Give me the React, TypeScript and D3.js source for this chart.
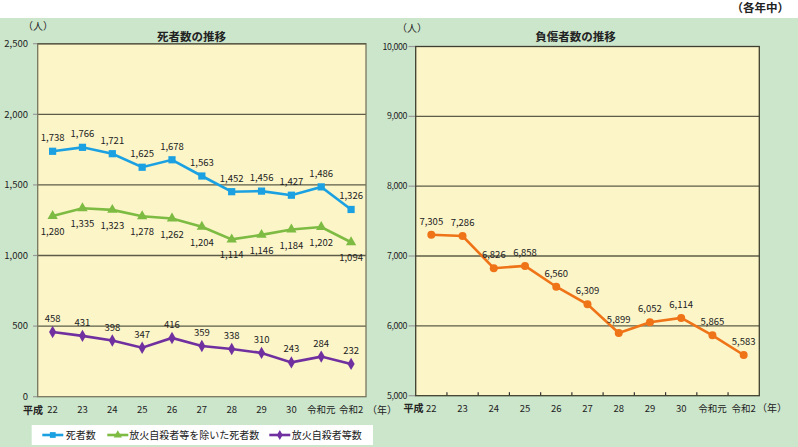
import React from 'react';
import * as d3 from 'd3';

const years = ['22', '23', '24', '25', '26', '27', '28', '29', '30', '令和元', '令和2'];
const deaths = [1738, 1766, 1721, 1625, 1678, 1563, 1452, 1456, 1427, 1486, 1326];
const deathsExcl = [1280, 1335, 1323, 1278, 1262, 1204, 1114, 1146, 1184, 1202, 1094];
const arsonSuicide = [458, 431, 398, 347, 416, 359, 338, 310, 243, 284, 232];
const injured = [7305, 7286, 6826, 6858, 6560, 6309, 5899, 6052, 6114, 5865, 5583];
const leftTicks = [0, 500, 1000, 1500, 2000, 2500];
const rightTicks = [5000, 6000, 7000, 8000, 9000, 10000];
const legendNames = ['死者数', '放火自殺者等を除いた死者数', '放火自殺者等数'];

const FONT = '"Noto Sans CJK JP", "Noto Sans", sans-serif';
const BG = '#cce6cc';
const PLOT = '#fbf5c8';
const GRID = '#5c5c48';
const BLUE = '#1ba1e2';
const GREEN = '#7dbb42';
const PURPLE = '#7030a0';
const ORANGE = '#ef7317';
const fmt = d3.format(',');

export default function App() {
  // left chart scales
  const xL = d3.scaleBand<string>().domain(years).range([37.7, 366]);
  const yL = d3.scaleLinear().domain([0, 2500]).range([396.7, 43.7]);
  // right chart scales
  const xR = d3.scaleBand<string>().domain(years).range([415.7, 759.3]);
  const yR = d3.scaleLinear().domain([5000, 10000]).range([395.7, 46.5]);

  const cxL = (i: number) => (xL(years[i]) as number) + xL.bandwidth() / 2;
  const cxR = (i: number) => (xR(years[i]) as number) + xR.bandwidth() / 2;

  const lineL = (vals: number[]) =>
    d3.line<number>().x((_, i) => cxL(i)).y((d) => yL(d))(vals) as string;
  const lineR = (vals: number[]) =>
    d3.line<number>().x((_, i) => cxR(i)).y((d) => yR(d))(vals) as string;

  const sq = d3.symbol().type(d3.symbolSquare).size(52)() as string;
  const tri = d3.symbol().type(d3.symbolTriangle).size(46)() as string;
  const dia = d3.symbol().type(d3.symbolDiamond).size(44)() as string;
  const circ = d3.symbol().type(d3.symbolCircle).size(50)() as string;

  const [l0, l1] = xL.range();
  const [r0, r1] = xR.range();

  const series = [
    { vals: deaths, color: BLUE, sym: sq, dy: -10 },
    { vals: deathsExcl, color: GREEN, sym: tri, dy: 19 },
    { vals: arsonSuicide, color: PURPLE, sym: dia, dy: -10 },
  ];

  const legendItems = [
    { x: 42.3, tx: 65.7, color: BLUE, sym: sq },
    { x: 107.3, tx: 129.3, color: GREEN, sym: tri },
    { x: 269.3, tx: 291.7, color: PURPLE, sym: dia },
  ];

  return (
    <svg width={798} height={447} style={{ position: 'absolute', left: 0, top: 0 }} fontFamily={FONT}>
      <rect x={0} y={0} width={798} height={447} fill="#ffffff" />
      <rect x={0} y={18} width={798} height={429} fill={BG} />
      <text x={789} y={12} textAnchor="end" fontSize={11.5} fontWeight="bold" fill="#222">（各年中）</text>

      {/* LEFT CHART */}
      <rect x={l0} y={yL(2500)} width={l1 - l0} height={yL(0) - yL(2500)} fill={PLOT} />
      {leftTicks.map((t) => (
        <g key={'lt' + t}>
          {t > 0 && t < 2500 && (
            <line x1={l0} x2={l1} y1={yL(t)} y2={yL(t)} stroke={GRID} strokeWidth={1.3} />
          )}
          <line x1={33} x2={l0} y1={yL(t)} y2={yL(t)} stroke="#999" strokeWidth={1.2} />
          <text x={28} y={yL(t)} dy="0.35em" textAnchor="end" fontSize={9.5} fill="#222">{fmt(t)}</text>
        </g>
      ))}
      <rect x={l0} y={yL(2500)} width={l1 - l0} height={yL(0) - yL(2500)} fill="none" stroke="#77775f" strokeWidth={1.3} />
      <line x1={l0} x2={l1} y1={yL(2500)} y2={yL(2500)} stroke={GRID} strokeWidth={1.5} />
      <text x={38} y={30} textAnchor="middle" fontSize={10} fill="#222">（人）</text>
      <text x={191.5} y={37} dy="0.35em" textAnchor="middle" fontSize={11.5} fontWeight="bold" fill="#222">死者数の推移</text>

      {series.map((s, si) => (
        <g key={'s' + si}>
          <path d={lineL(s.vals)} fill="none" stroke={s.color} strokeWidth={2.6} />
          {s.vals.map((v, i) => (
            <path key={i} d={s.sym} transform={`translate(${cxL(i)},${yL(v)})`} fill={s.color} />
          ))}
          {s.vals.map((v, i) => (
            <text key={'t' + i} x={cxL(i)} y={yL(v) + s.dy} textAnchor="middle" fontSize={9.5} fill="#222">{fmt(v)}</text>
          ))}
        </g>
      ))}

      <text x={33} y={410} dy="0.35em" textAnchor="middle" fontSize={10} fontWeight="bold" fill="#222">平成</text>
      {years.map((y, i) => (
        <text key={'xl' + y} x={cxL(i)} y={410} dy="0.35em" textAnchor="middle" fontSize={9.5} fill="#222">{y}</text>
      ))}
      <text x={367} y={410} dy="0.35em" textAnchor="start" fontSize={10} fill="#222">（年）</text>

      {/* Legend */}
      <rect x={31.7} y={425} width={341.3} height={20} fill="#ffffff" />
      {legendItems.map((it, i) => (
        <g key={'lg' + i}>
          <line x1={it.x} x2={it.x + 21} y1={435} y2={435} stroke={it.color} strokeWidth={2.6} />
          <path d={it.sym} transform={`translate(${it.x + 10.5},435) scale(0.8)`} fill={it.color} />
          <text x={it.tx} y={435} dy="0.35em" fontSize={10} fill="#222">{legendNames[i]}</text>
        </g>
      ))}

      {/* RIGHT CHART */}
      <rect x={r0} y={yR(10000)} width={r1 - r0} height={yR(5000) - yR(10000)} fill={PLOT} />
      {rightTicks.map((t) => (
        <g key={'rt' + t}>
          {t > 5000 && t < 10000 && (
            <line x1={r0} x2={r1} y1={yR(t)} y2={yR(t)} stroke={GRID} strokeWidth={1.3} />
          )}
          <line x1={408.5} x2={r0} y1={yR(t)} y2={yR(t)} stroke="#999" strokeWidth={1.2} />
          <text x={407} y={yR(t)} dy="0.35em" textAnchor="end" fontSize={8.8} letterSpacing={-0.4} fill="#222">{fmt(t)}</text>
        </g>
      ))}
      {years.slice(1).map((y) => (
        <line key={'tk' + y} x1={xR(y) as number} x2={xR(y) as number} y1={yR(5000)} y2={yR(5000) - 3.5} stroke="#333" strokeWidth={1.2} />
      ))}
      <rect x={r0} y={yR(10000)} width={r1 - r0} height={yR(5000) - yR(10000)} fill="none" stroke="#3f3f2f" strokeWidth={1.3} />
      <text x={412} y={32} textAnchor="middle" fontSize={10} fill="#222">（人）</text>
      <text x={575.5} y={37} dy="0.35em" textAnchor="middle" fontSize={11.5} fontWeight="bold" fill="#222">負傷者数の推移</text>

      <path d={lineR(injured)} fill="none" stroke={ORANGE} strokeWidth={2.6} />
      {injured.map((v, i) => (
        <path key={'oc' + i} d={circ} transform={`translate(${cxR(i)},${yR(v)})`} fill={ORANGE} />
      ))}
      {injured.map((v, i) => (
        <text key={'ot' + i} x={cxR(i)} y={yR(v) - 10} textAnchor="middle" fontSize={9.5} fill="#222">{fmt(v)}</text>
      ))}

      <text x={413.5} y={408.5} dy="0.35em" textAnchor="middle" fontSize={10} fontWeight="bold" fill="#222">平成</text>
      {years.map((y, i) => (
        <text key={'xr' + y} x={cxR(i)} y={408.5} dy="0.35em" textAnchor="middle" fontSize={9.5} fill="#222">{y}</text>
      ))}
      <text x={757} y={408.5} dy="0.35em" textAnchor="start" fontSize={10} fill="#222">（年）</text>
    </svg>
  );
}
